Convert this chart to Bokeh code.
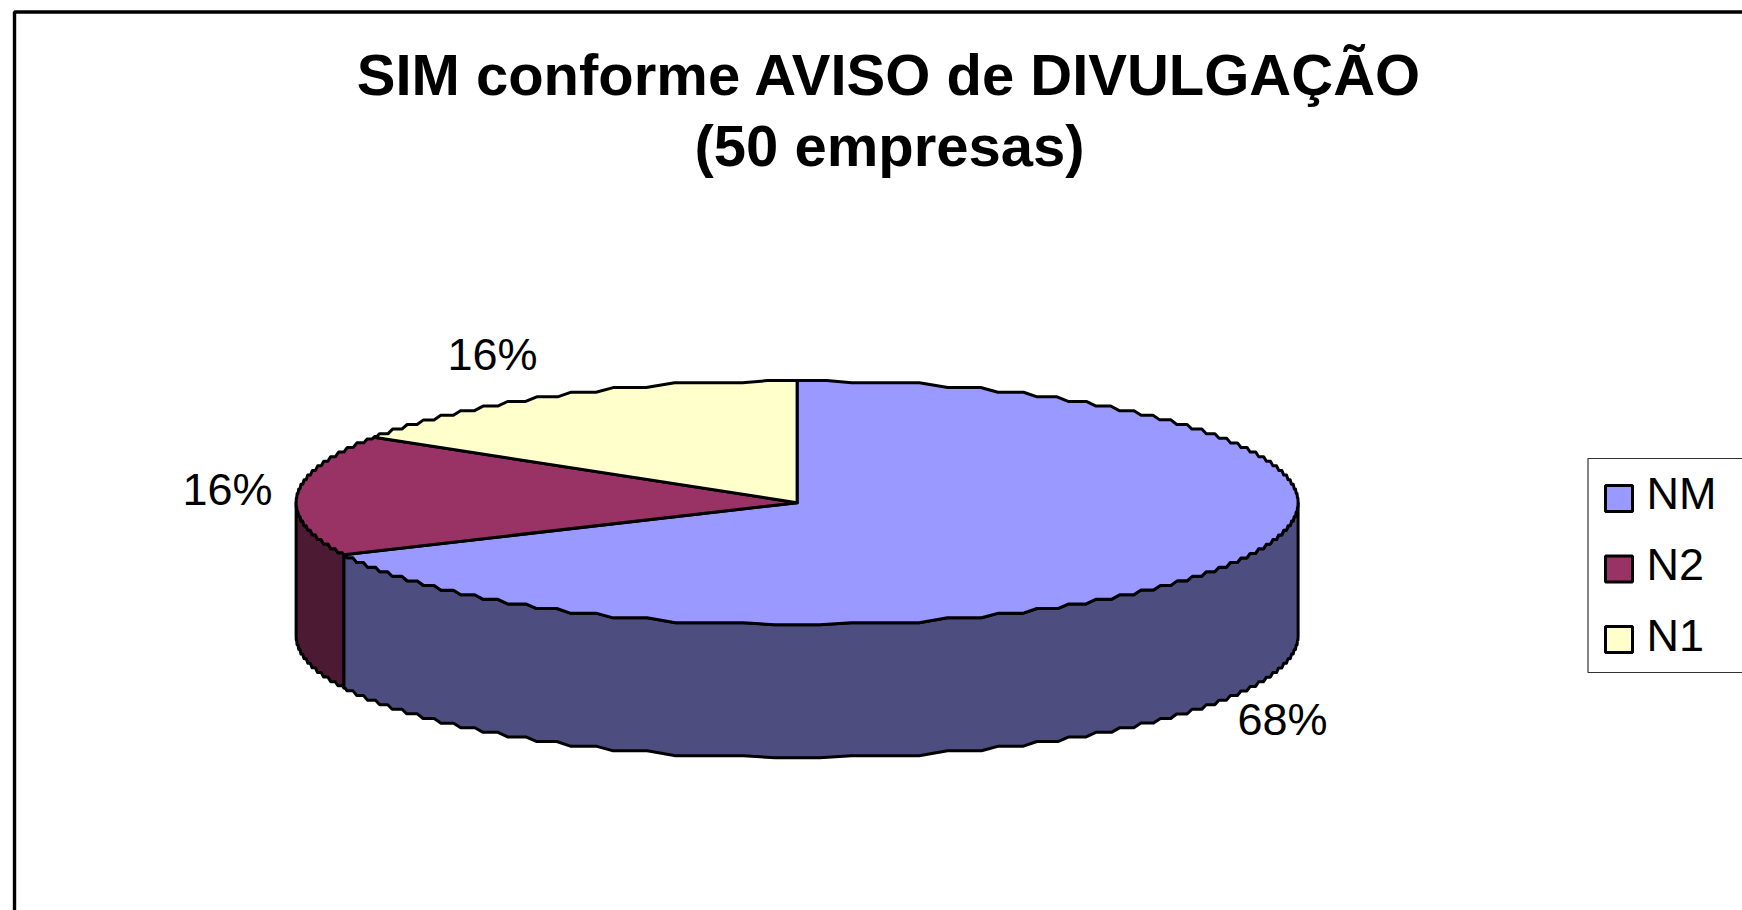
import math
from bokeh.plotting import figure
from bokeh.models import Range1d
from bokeh.core.properties import value
from bokeh.embed import file_html
from bokeh.resources import INLINE

title_lines = ["SIM conforme AVISO de DIVULGAÇÃO", "(50 empresas)"]
categories = ["NM", "N2", "N1"]
shares = [68, 16, 16]
top_colors = ["#9999FF", "#993366", "#FFFFCC"]
side_colors = ["#4D4D80", "#4D1A33", "#808066"]

W, H = 1742, 910
p = figure(width=W, height=H, output_backend="svg", toolbar_location=None,
           x_range=Range1d(0, W), y_range=Range1d(H, 0), min_border=0,
           background_fill_color="white", border_fill_color="white")
p.axis.visible = False
p.grid.visible = False
p.outline_line_color = None

CX, CY, RX, RY, DEPTH = 796.6, 502.2, 501.0, 122.2, 133.0
GRID = 4.6


def arc(a0, a1, dy=0.0):
    """Ellipse arc (degrees clockwise from 12 o'clock), drawn as flat runs with
    slanted joints, like the low-resolution original."""
    n = max(2, int(abs(a1 - a0) * 8))
    dense = []
    for i in range(n + 1):
        a = math.radians(a0 + (a1 - a0) * i / n)
        dense.append((CX + RX * math.sin(a), CY - RY * math.cos(a)))
    groups, cur, level = [], [], None
    for q in dense[1:-1]:
        lv = round((q[1] - CY) / GRID)
        if lv != level and cur:
            groups.append(cur)
            cur = []
        level = lv
        cur.append(q)
    if cur:
        groups.append(cur)
    out = [dense[0]]
    for g in groups:
        y = sum(q[1] for q in g) / len(g)
        k0, k1 = int(len(g) * 0.18), int(len(g) * 0.82)
        out.append((g[k0][0], y))
        if k1 > k0:
            out.append((g[min(k1, len(g) - 1)][0], y))
    out.append(dense[-1])
    return [(x, y + dy) for x, y in out]


total = sum(shares)
edges = [0.0]
for s in shares:
    edges.append(edges[-1] + 360.0 * s / total)

LW = 3.0
# side walls (only the front half, 90..270 degrees, is visible)
for i, cat in enumerate(categories):
    a0, a1 = max(edges[i], 90.0), min(edges[i + 1], 270.0)
    if a1 <= a0:
        continue
    front = arc(a0, a1)
    back = arc(a0, a1, DEPTH)[::-1]
    pts = front + back
    p.patch([q[0] for q in pts], [q[1] for q in pts], fill_color=side_colors[i],
            line_color="black", line_width=LW, line_join="round")

# top slices
for i, cat in enumerate(categories):
    pts = [(CX, CY)] + arc(edges[i], edges[i + 1])
    p.patch([q[0] for q in pts], [q[1] for q in pts], fill_color=top_colors[i],
            line_color="black", line_width=LW, line_join="round")

# chart frame: its right and bottom edges fall outside the image
p.line([14, 14, 2000], [2000, 11.5, 11.5], line_color="black", line_width=3.4)

# title
FONT = value("Liberation Sans")
p.text([889, 889], [73.5, 145], text=title_lines, text_font=FONT, text_font_style="bold",
       text_font_size="58px", text_align="center", text_baseline="middle", text_color="black")

# percent labels
lab_x = [1282, 227, 492]
lab_y = [719, 489, 353.5]
p.text(lab_x, lab_y, text=[f"{s}%" for s in shares], text_font=FONT, text_font_size="45px",
       text_align="center", text_baseline="middle", text_color="black")

# legend
p.quad(left=[1587.5], right=[2000], top=[458], bottom=[672], fill_color="white",
       line_color="#333333", line_width=1.2)
box_t = [485, 555.5, 626]
p.quad(left=[1605] * 3, right=[1632] * 3, top=box_t, bottom=[t + 26 for t in box_t],
       fill_color=top_colors, line_color="black", line_width=3.0)
p.text([1646] * 3, [492.5, 563.5, 634.5], text=categories, text_font=FONT, text_font_size="45px",
       text_align="left", text_baseline="middle", text_color="black")

open("out.html", "w").write(file_html(p, INLINE))
